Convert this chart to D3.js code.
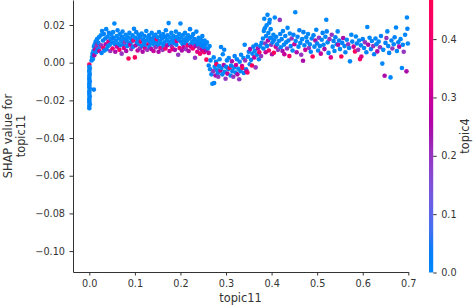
<!DOCTYPE html>
<html>
<head>
<meta charset="utf-8">
<script src="https://cdn.jsdelivr.net/npm/d3@7"></script>
<style>
  body { margin: 0; background: #fff; }
  svg { display: block; }
  text { font-family: "DejaVu Sans", sans-serif; fill: #333333; }
</style>
</head>
<body>
<script>
// [topic11, SHAP value, topic4]
var zeroCluster = [
  [0.000,-0.0010,0.45],[0.000,-0.0022,0.02],[0.001,-0.0030,0.00],[0.000,-0.0040,0.02],
  [0.000,-0.0050,0.01],[0.001,-0.0060,0.00],[0.000,-0.0070,0.02],[0.000,-0.0080,0.00],
  [0.000,-0.0090,0.03],[0.001,-0.0100,0.00],[0.000,-0.0110,0.02],[0.000,-0.0120,0.01],
  [0.000,-0.0130,0.00],[0.001,-0.0140,0.02],[0.000,-0.0150,0.00],[0.000,-0.0160,0.02],
  [0.000,-0.0170,0.01],[0.001,-0.0180,0.00],[0.000,-0.0190,0.02],[0.000,-0.0200,0.00],
  [0.000,-0.0210,0.02],[0.001,-0.0220,0.01],[0.000,-0.0230,0.00],[0.000,-0.0242,0.02],
  [0.010,-0.0143,0.02]
];
var riseBand = [
  [0.005,0.0012,0.02],[0.006,0.0030,0.00],[0.007,0.0048,0.02],[0.008,0.0020,0.00],
  [0.009,0.0062,0.01],[0.010,0.0085,0.00],[0.011,0.0040,0.25],[0.012,0.0098,0.00],
  [0.013,0.0070,0.30],[0.014,0.0112,0.02],[0.015,0.0055,0.00],[0.016,0.0088,0.20],
  [0.017,0.0125,0.00],[0.018,0.0068,0.02],[0.019,0.0102,0.42]
];
var plateauBand = [
  [0.020,0.0105,0.02],[0.021,0.0135,0.01],[0.022,0.0062,0.30],[0.023,0.0085,0.05],
  [0.025,0.0145,0.00],[0.026,0.0092,0.20],[0.027,0.0051,0.02],[0.028,0.0168,0.01],
  [0.030,0.0118,0.00],[0.031,0.0078,0.42],[0.032,0.0152,0.02],[0.033,0.0064,0.01],
  [0.035,0.0128,0.03],[0.036,0.0098,0.25],[0.037,0.0178,0.00],[0.038,0.0071,0.02],
  [0.040,0.0138,0.00],[0.041,0.0088,0.01],[0.042,0.0112,0.35],[0.043,0.0158,0.02],
  [0.045,0.0095,0.00],[0.046,0.0062,0.20],[0.047,0.0125,0.01],[0.048,0.0148,0.00],
  [0.050,0.0108,0.02],[0.051,0.0075,0.40],[0.052,0.0162,0.00],[0.053,0.0132,0.03],
  [0.055,0.0208,0.00],[0.056,0.0098,0.01],[0.057,0.0058,0.25],[0.058,0.0118,0.02],
  [0.060,0.0142,0.00],[0.061,0.0085,0.30],[0.062,0.0172,0.02],[0.063,0.0102,0.00],
  [0.065,0.0128,0.01],[0.066,0.0068,0.42],[0.067,0.0152,0.00],[0.068,0.0092,0.02],
  [0.070,0.0115,0.00],[0.071,0.0048,0.20],[0.072,0.0138,0.02],[0.073,0.0165,0.01],
  [0.075,0.0098,0.03],[0.076,0.0078,0.35],[0.077,0.0125,0.00],[0.078,0.0108,0.20],
  [0.080,0.0148,0.00],[0.081,0.0062,0.25],[0.082,0.0118,0.02],[0.083,0.0088,0.01],
  [0.085,0.0135,0.00],[0.086,0.0022,0.45],[0.087,0.0105,0.02],[0.088,0.0158,0.01],
  [0.090,0.0095,0.30],[0.091,0.0128,0.00],[0.092,0.0072,0.20],[0.093,0.0112,0.02],
  [0.095,0.0145,0.00],[0.096,0.0085,0.02],[0.097,0.0118,0.40],[0.098,0.0180,0.01],
  [0.100,0.0028,0.45],[0.101,0.0132,0.00],[0.102,0.0092,0.25],[0.103,0.0162,0.02],
  [0.105,0.0108,0.00],[0.106,0.0065,0.30],[0.107,0.0125,0.02],[0.108,0.0148,0.01],
  [0.110,0.0098,0.00],[0.111,0.0075,0.20],[0.112,0.0138,0.02],[0.113,0.0112,0.42],
  [0.115,0.0155,0.00],[0.116,0.0088,0.02],[0.117,0.0058,0.25],[0.118,0.0122,0.01],
  [0.120,0.0105,0.00],[0.121,0.0142,0.02],[0.122,0.0078,0.35],[0.123,0.0095,0.01],
  [0.125,0.0168,0.00],[0.126,0.0118,0.02],[0.127,0.0068,0.20],[0.128,0.0132,0.00],
  [0.130,0.0098,0.40],[0.131,0.0145,0.01],[0.132,0.0085,0.02],[0.133,0.0112,0.00],
  [0.135,0.0128,0.02],[0.136,0.0072,0.25],[0.137,0.0158,0.00],[0.138,0.0102,0.01],
  [0.140,0.0118,0.00],[0.141,0.0062,0.30],[0.142,0.0138,0.02],[0.143,0.0092,0.00],
  [0.145,0.0148,0.01],[0.146,0.0082,0.20],[0.147,0.0108,0.02],[0.148,0.0125,0.42],
  [0.150,0.0135,0.00],[0.151,0.0095,0.02],[0.152,0.0058,0.25],[0.153,0.0162,0.01],
  [0.155,0.0115,0.00],[0.156,0.0078,0.35],[0.157,0.0142,0.02],[0.158,0.0102,0.00],
  [0.160,0.0128,0.02],[0.161,0.0068,0.20],[0.162,0.0152,0.00],[0.163,0.0088,0.01],
  [0.165,0.0108,0.00],[0.166,0.0138,0.02],[0.167,0.0075,0.42],[0.168,0.0172,0.01],
  [0.170,0.0122,0.00],[0.171,0.0092,0.25],[0.172,0.0145,0.02],[0.174,0.0210,0.00],
  [0.175,0.0112,0.01],[0.176,0.0062,0.30],[0.177,0.0135,0.00],[0.178,0.0098,0.02],
  [0.180,0.0158,0.00],[0.181,0.0085,0.20],[0.182,0.0118,0.02],[0.183,0.0072,0.40],
  [0.185,0.0142,0.00],[0.186,0.0105,0.02],[0.187,0.0128,0.01],[0.188,0.0068,0.25],
  [0.190,0.0165,0.00],[0.191,0.0095,0.02],[0.192,0.0115,0.35],[0.193,0.0138,0.00],
  [0.195,0.0042,0.20],[0.196,0.0125,0.01],[0.197,0.0152,0.00],[0.198,0.0078,0.42],
  [0.200,0.0208,0.00],[0.201,0.0112,0.02],[0.202,0.0135,0.00],[0.203,0.0065,0.25],
  [0.205,0.0098,0.02],[0.206,0.0148,0.00],[0.207,0.0082,0.30],[0.208,0.0122,0.01],
  [0.210,0.0158,0.00],[0.211,0.0105,0.02],[0.212,0.0072,0.20],[0.213,0.0132,0.00],
  [0.215,0.0118,0.01],[0.216,0.0092,0.40],[0.217,0.0145,0.00],[0.218,0.0062,0.25],
  [0.220,0.0128,0.00],[0.221,0.0178,0.02],[0.222,0.0098,0.00],[0.223,0.0085,0.30],
  [0.225,0.0138,0.00],[0.226,0.0112,0.02],[0.227,0.0075,0.42],[0.228,0.0152,0.01],
  [0.230,0.0102,0.00],[0.231,0.0125,0.02],[0.232,0.0026,0.20],[0.233,0.0088,0.25],
  [0.235,0.0165,0.00],[0.236,0.0115,0.01],[0.237,0.0058,0.35],[0.238,0.0095,0.02],
  [0.240,0.0132,0.00],[0.241,0.0078,0.20],[0.242,0.0108,0.02],[0.243,0.0048,0.42],
  [0.245,0.0122,0.00],[0.246,0.0092,0.02],[0.247,0.0068,0.30],[0.248,0.0142,0.01],
  [0.250,0.0105,0.00],[0.251,0.0082,0.02],[0.252,0.0055,0.40],[0.253,0.0118,0.00],
  [0.255,0.0095,0.02],[0.256,0.0065,0.25],[0.257,0.0016,0.45],[0.258,0.0108,0.00],
  [0.260,0.0075,0.02],[0.262,0.0052,0.30],[0.264,0.0088,0.00]
];
var dipBand = [
  [0.262,-0.0015,0.02],[0.265,-0.0035,0.00],[0.266,0.0012,0.02],[0.268,-0.0062,0.01],
  [0.270,-0.0112,0.00],[0.272,-0.0045,0.20],[0.273,0.0028,0.00],[0.274,-0.0108,0.02],
  [0.275,-0.0022,0.00],[0.277,-0.0068,0.25],[0.278,0.0005,0.02],[0.279,-0.0008,0.45],
  [0.280,-0.0038,0.00],[0.282,-0.0055,0.02],[0.283,-0.0075,0.20],[0.285,-0.0018,0.01],
  [0.286,0.0018,0.00],[0.288,-0.0042,0.30],[0.289,0.0083,0.02],[0.290,-0.0028,0.00],
  [0.292,-0.0062,0.02],[0.293,0.0045,0.00],[0.295,-0.0012,0.25],[0.296,0.0069,0.01],
  [0.297,-0.0048,0.00],[0.299,-0.0085,0.20],[0.300,-0.0022,0.02],[0.302,0.0012,0.00],
  [0.303,-0.0058,0.30],[0.305,-0.0035,0.02],[0.306,0.0025,0.00],[0.308,-0.0028,0.45],
  [0.310,-0.0068,0.00],[0.311,-0.0015,0.02],[0.313,0.0008,0.25],[0.314,-0.0045,0.01],
  [0.316,-0.0075,0.20],[0.318,-0.0025,0.00],[0.319,0.0035,0.02],[0.321,-0.0052,0.00],
  [0.322,-0.0012,0.30],[0.324,0.0018,0.02],[0.325,-0.0062,0.25],[0.327,-0.0032,0.00],
  [0.329,-0.0088,0.20],[0.330,0.0005,0.02],[0.332,-0.0045,0.00],[0.333,0.0042,0.01],
  [0.335,-0.0018,0.30],[0.336,-0.0028,0.45],[0.338,0.0025,0.00],[0.339,-0.0055,0.02],
  [0.341,0.0095,0.00],[0.342,0.0012,0.20],[0.344,-0.0035,0.02],[0.345,-0.0046,0.25],
  [0.347,-0.0052,0.42],[0.348,0.0032,0.00],[0.350,0.0058,0.02],[0.352,-0.0008,0.00],
  [0.353,0.0072,0.25],[0.355,0.0015,0.02],[0.357,-0.0015,0.45],[0.358,0.0048,0.00],
  [0.360,0.0085,0.02],[0.362,0.0028,0.30],[0.363,0.0062,0.00],[0.365,-0.0025,0.20],
  [0.366,0.0095,0.02],[0.368,0.0042,0.00],[0.370,0.0075,0.25],[0.372,0.0018,0.02],
  [0.373,0.0055,0.42],[0.375,0.0088,0.00],[0.377,0.0035,0.20],[0.378,0.0105,0.02]
];
var spikeBand = [
  [0.381,0.0128,0.00],[0.382,0.0075,0.02],[0.383,0.0168,0.00],[0.384,0.0233,0.01],
  [0.385,0.0183,0.00],[0.386,0.0102,0.20],[0.387,0.0055,0.30],[0.388,0.0142,0.02],
  [0.389,0.0198,0.00],[0.390,0.0088,0.02],[0.391,0.0254,0.00],[0.392,0.0118,0.25],
  [0.393,0.0158,0.00],[0.394,0.0065,0.42],[0.395,0.0212,0.02],[0.396,0.0228,0.00],
  [0.397,0.0132,0.02],[0.398,0.0178,0.00],[0.399,0.0095,0.20],[0.400,0.0130,0.00],
  [0.401,0.0045,0.25],[0.402,0.0108,0.02],[0.404,0.0148,0.00],[0.405,0.0053,0.45],
  [0.406,0.0122,0.02],[0.407,0.0240,0.00],[0.409,0.0085,0.30],[0.410,0.0138,0.00],
  [0.412,0.0098,0.02],[0.414,0.0068,0.20],[0.416,0.0115,0.00],[0.418,0.0227,0.20],
  [0.419,0.0152,0.02],[0.420,0.0082,0.00]
];
var tailBand = [
  [0.422,0.0125,0.02],[0.424,0.0062,0.25],[0.425,0.0168,0.00],[0.427,0.0095,0.00],
  [0.428,0.0045,0.30],[0.430,0.0142,0.02],[0.432,0.0108,0.00],[0.434,0.0075,0.20],
  [0.435,0.0185,0.00],[0.437,0.0118,0.02],[0.439,0.0035,0.42],[0.440,0.0155,0.00],
  [0.442,0.0088,0.02],[0.444,0.0128,0.20],[0.446,0.0065,0.00],[0.448,0.0148,0.02],
  [0.450,0.0098,0.30],[0.452,0.0268,0.00],[0.453,0.0115,0.00],[0.455,0.0055,0.25],
  [0.457,0.0138,0.02],[0.459,0.0085,0.00],[0.461,0.0172,0.02],[0.463,0.0105,0.00],
  [0.465,0.0042,0.20],[0.467,0.0125,0.00],[0.469,0.0010,0.25],[0.470,0.0162,0.02],
  [0.472,0.0092,0.00],[0.474,0.0068,0.30],[0.476,0.0135,0.00],[0.478,0.0112,0.02],
  [0.480,0.0152,0.00],[0.482,0.0078,0.20],[0.484,0.0098,0.00],[0.486,0.0058,0.02],
  [0.488,0.0128,0.00],[0.490,0.0033,0.45],[0.492,0.0145,0.02],[0.494,0.0085,0.00],
  [0.496,0.0118,0.25],[0.498,0.0175,0.00],[0.500,0.0102,0.02],[0.502,0.0065,0.00],
  [0.504,0.0132,0.20],[0.506,0.0088,0.02],[0.508,0.0048,0.30],[0.510,0.0122,0.00],
  [0.512,0.0158,0.02],[0.514,0.0095,0.00],[0.516,0.0072,0.25],[0.518,0.0138,0.00],
  [0.520,0.0228,0.00],[0.521,0.0166,0.02],[0.523,0.0108,0.00],[0.525,0.0052,0.02],
  [0.527,0.0125,0.20],[0.530,0.0028,0.35],[0.532,0.0148,0.20],[0.534,0.0085,0.00],
  [0.536,0.0115,0.02],[0.538,0.0062,0.00],[0.540,0.0135,0.02],[0.543,0.0098,0.00],
  [0.545,0.0166,0.00],[0.546,0.0095,0.25],[0.548,0.0118,0.02],[0.550,0.0072,0.00],
  [0.553,0.0033,0.45],[0.555,0.0105,0.02],[0.557,0.0131,0.25],[0.560,0.0088,0.00],
  [0.562,0.0055,0.02],[0.565,0.0122,0.00],[0.568,0.0098,0.20],[0.570,0.0078,0.02],
  [0.572,0.0007,0.00],[0.575,0.0148,0.00],[0.577,0.0112,0.02],[0.580,0.0085,0.30],
  [0.583,0.0060,0.45],[0.585,0.0139,0.00],[0.587,0.0102,0.02],[0.590,0.0068,0.20],
  [0.592,0.0118,0.00],[0.594,0.0019,0.42],[0.596,0.0092,0.00],[0.597,0.0033,0.35],
  [0.600,0.0125,0.02],[0.603,0.0078,0.00],[0.605,0.0108,0.20],[0.608,0.0055,0.02],
  [0.610,0.0189,0.00],[0.612,0.0095,0.25],[0.615,0.0132,0.00],[0.618,0.0072,0.02],
  [0.620,0.0115,0.00],[0.623,0.0088,0.20],[0.625,0.0045,0.02],[0.628,0.0128,0.00],
  [0.630,0.0098,0.02],[0.632,0.0060,0.25],[0.635,0.0112,0.00],[0.638,0.0082,0.20],
  [0.640,0.0142,0.02],[0.643,-0.0005,0.00],[0.645,0.0068,0.00],[0.648,-0.0069,0.25],
  [0.650,0.0105,0.02],[0.652,0.0131,0.20],[0.654,0.0166,0.00],[0.656,0.0088,0.00],
  [0.658,0.0052,0.02],[0.661,-0.0078,0.00],[0.663,0.0118,0.02],[0.665,0.0075,0.20],
  [0.668,0.0098,0.00],[0.670,0.0135,0.02],[0.673,0.0187,0.00],[0.675,0.0062,0.00],
  [0.678,0.0108,0.02],[0.680,0.0085,0.25],[0.683,0.0125,0.00],[0.686,-0.0028,0.00],
  [0.688,0.0095,0.02],[0.690,0.0058,0.20],[0.693,0.0148,0.00],[0.696,-0.0046,0.25],
  [0.697,0.0240,0.00],[0.698,0.0180,0.02],[0.699,0.0102,0.00]
];

var xTicks = [0.0, 0.1, 0.2, 0.3, 0.4, 0.5, 0.6, 0.7];
var yTicks = [-0.10, -0.08, -0.06, -0.04, -0.02, 0.00, 0.02];
var cTicks = [0.0, 0.1, 0.2, 0.3, 0.4];
var xName = "topic11";
var yName = ["SHAP value for", "topic11"];
var cName = "topic4";

var W = 475, H = 307;
var axisColor = "#333333";

var svg = d3.select("body").append("svg")
  .attr("width", W).attr("height", H);

var x = d3.scaleLinear().domain([-0.0358, 0.7]).range([73, 408.3]);
var y = d3.scaleLinear().domain([-0.1111, 0.03327]).range([272, 0]);
var cScale = d3.scaleLinear().domain([0, 0.467]).range([272.5, 0]);

// shap red_blue colormap (LCH interpolation)
function redBlue(t) {
  t = Math.max(0, Math.min(1, t));
  var l = t < 0.5 ? 54 - 28 * t : 40 + 28 * (t - 0.5);
  return d3.hcl(266.93 + 113.39 * t, 70 + 20 * t, l).formatHex();
}
function colorOf(v) { return redBlue(v / 0.467); }

var points = [].concat(zeroCluster, riseBand, plateauBand, dipBand, spikeBand, tailBand);

svg.append("g").selectAll("circle")
  .data(points)
  .enter().append("circle")
  .attr("cx", function (d) { return x(d[0]); })
  .attr("cy", function (d) { return y(d[1]); })
  .attr("r", 2.3)
  .attr("fill", function (d) { return colorOf(d[2]); });

// axes
var xAxis = svg.append("g")
  .attr("transform", "translate(0,272)")
  .call(d3.axisBottom(x).tickValues(xTicks).tickFormat(d3.format(".1f"))
    .tickSize(3.5).tickSizeOuter(0).tickPadding(4.5));
var yAxis = svg.append("g")
  .attr("transform", "translate(73,0)")
  .call(d3.axisLeft(y).tickValues(yTicks).tickFormat(d3.format(".2f"))
    .tickSize(3.5).tickSizeOuter(0).tickPadding(4.5));
[xAxis, yAxis].forEach(function (g) {
  g.selectAll("path,line").attr("stroke", axisColor);
  g.selectAll("text").attr("fill", axisColor)
    .style("font-family", "'DejaVu Sans', sans-serif").style("font-size", "9.7px");
});

svg.append("text")
  .attr("x", 240.5).attr("y", 302)
  .attr("text-anchor", "middle")
  .style("font-size", "11.4px")
  .text(xName);

svg.append("g").selectAll("text")
  .data(yName)
  .enter().append("text")
  .attr("transform", function (d, i) { return "translate(" + (12 + i * 13.3) + ",136) rotate(-90)"; })
  .attr("text-anchor", "middle")
  .style("font-size", "11.4px")
  .text(function (d) { return d; });

// colorbar
var grad = svg.append("defs").append("linearGradient")
  .attr("id", "cbar").attr("x1", 0).attr("y1", 1).attr("x2", 0).attr("y2", 0);
d3.range(0, 1.0001, 0.05).forEach(function (t) {
  grad.append("stop").attr("offset", t).attr("stop-color", redBlue(t));
});
svg.append("rect")
  .attr("x", 429).attr("y", cScale(0.467))
  .attr("width", 4.2).attr("height", cScale(0) - cScale(0.467))
  .attr("fill", "url(#cbar)");

var cAxis = svg.append("g")
  .attr("transform", "translate(433.2,0)")
  .call(d3.axisRight(cScale).tickValues(cTicks).tickFormat(d3.format(".1f"))
    .tickSize(3.5).tickSizeOuter(0).tickPadding(4.5));
cAxis.select(".domain").remove();
cAxis.selectAll("line").attr("stroke", axisColor);
cAxis.selectAll("text").attr("fill", axisColor)
  .style("font-family", "'DejaVu Sans', sans-serif").style("font-size", "9.7px");

svg.append("text")
  .attr("transform", "translate(469,136) rotate(-90)")
  .attr("text-anchor", "middle")
  .style("font-size", "11.4px")
  .text(cName);
</script>
</body>
</html>
